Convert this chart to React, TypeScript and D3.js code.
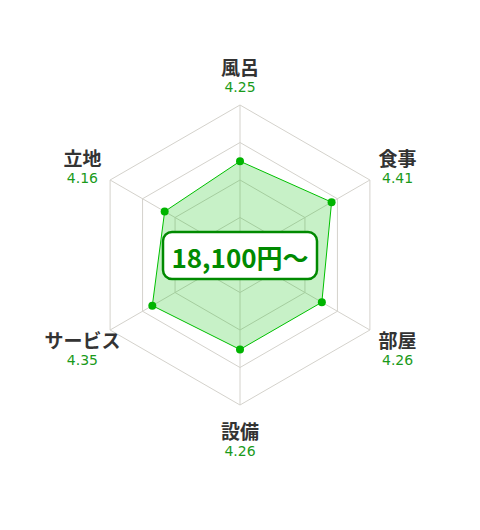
import React, { useRef, useEffect } from 'react';
import * as d3 from 'd3';

const categories = ['風呂', '食事', '部屋', '設備', 'サービス', '立地'];
const scores = [4.25, 4.41, 4.26, 4.26, 4.35, 4.16];
const gridLevels = [3.5, 4, 4.5, 5];
const priceLabel = '18,100円～';

const RadarChart: React.FC<{ width?: number; height?: number }> = ({
  width = 480,
  height = 530,
}) => {
  const svgRef = useRef<SVGSVGElement>(null);

  useEffect(() => {
    if (!svgRef.current) return;
    const svg = d3.select(svgRef.current);
    svg.selectAll('*').remove();

    const cx = 240;
    const cy = 255;
    const radius = 150;

    // score 3..5 maps to 0..radius
    const rScale = d3.scaleLinear().domain([3, 5]).range([0, radius]);
    const angle = d3
      .scalePoint<string>()
      .domain(categories)
      .range([0, (2 * Math.PI * (categories.length - 1)) / categories.length]);

    const g = svg.append('g').attr('transform', `translate(${cx},${cy})`);

    const radial = d3
      .lineRadial<number>()
      .angle((_, i) => angle(categories[i]) || 0)
      .radius((d) => rScale(d))
      .curve(d3.curveLinearClosed);

    // Grid rings
    gridLevels.forEach((lv) => {
      g.append('path')
        .attr('d', radial(categories.map(() => lv)))
        .attr('fill', 'none')
        .attr('stroke', '#d4d2cc')
        .attr('stroke-width', 1);
    });

    // Spokes
    categories.forEach((c) => {
      const a = angle(c) || 0;
      g.append('line')
        .attr('x1', 0)
        .attr('y1', 0)
        .attr('x2', Math.sin(a) * rScale(5))
        .attr('y2', -Math.cos(a) * rScale(5))
        .attr('stroke', '#d4d2cc')
        .attr('stroke-width', 1);
    });

    // Data area
    g.append('path')
      .attr('d', radial(scores))
      .attr('fill', 'rgba(0,190,0,0.22)')
      .attr('stroke', '#00c000')
      .attr('stroke-width', 1);

    g.selectAll('.pt')
      .data(scores)
      .enter()
      .append('circle')
      .attr('class', 'pt')
      .attr('cx', (d, i) => Math.sin(angle(categories[i]) || 0) * rScale(d))
      .attr('cy', (d, i) => -Math.cos(angle(categories[i]) || 0) * rScale(d))
      .attr('r', 4)
      .attr('fill', '#00b400');

    // Labels
    const labelR = 182;
    categories.forEach((c, i) => {
      const a = angle(c) || 0;
      const lx = Math.sin(a) * labelR;
      const ly = -Math.cos(a) * labelR + 2;
      g.append('text')
        .attr('x', lx)
        .attr('y', ly - 9)
        .attr('text-anchor', 'middle')
        .attr('dominant-baseline', 'central')
        .attr('font-family', '"Noto Sans CJK JP", sans-serif')
        .attr('font-weight', 'bold')
        .attr('font-size', '19px')
        .attr('fill', '#333')
        .text(c);
      g.append('text')
        .attr('x', lx)
        .attr('y', ly + 12)
        .attr('text-anchor', 'middle')
        .attr('dominant-baseline', 'central')
        .attr('font-family', '"DejaVu Sans", sans-serif')
        .attr('font-size', '14px')
        .attr('fill', '#1a9a1a')
        .text(scores[i].toFixed(2));
    });

    // Price box in the middle
    g.append('rect')
      .attr('x', -77)
      .attr('y', -23)
      .attr('width', 154)
      .attr('height', 47)
      .attr('rx', 9)
      .attr('fill', '#fff')
      .attr('stroke', '#008a00')
      .attr('stroke-width', 2.5);

    g.append('text')
      .attr('x', 0)
      .attr('y', 1)
      .attr('text-anchor', 'middle')
      .attr('dominant-baseline', 'central')
      .attr('font-family', '"Noto Sans CJK JP", sans-serif')
      .attr('font-weight', 'bold')
      .attr('font-size', '26px')
      .attr('fill', '#008a00')
      .text(priceLabel);
  }, [width, height]);

  return <svg ref={svgRef} width={width} height={height} style={{ display: 'block' }} />;
};

export default function App() {
  return (
    <div style={{ margin: -8 }}>
      <RadarChart />
    </div>
  );
}
